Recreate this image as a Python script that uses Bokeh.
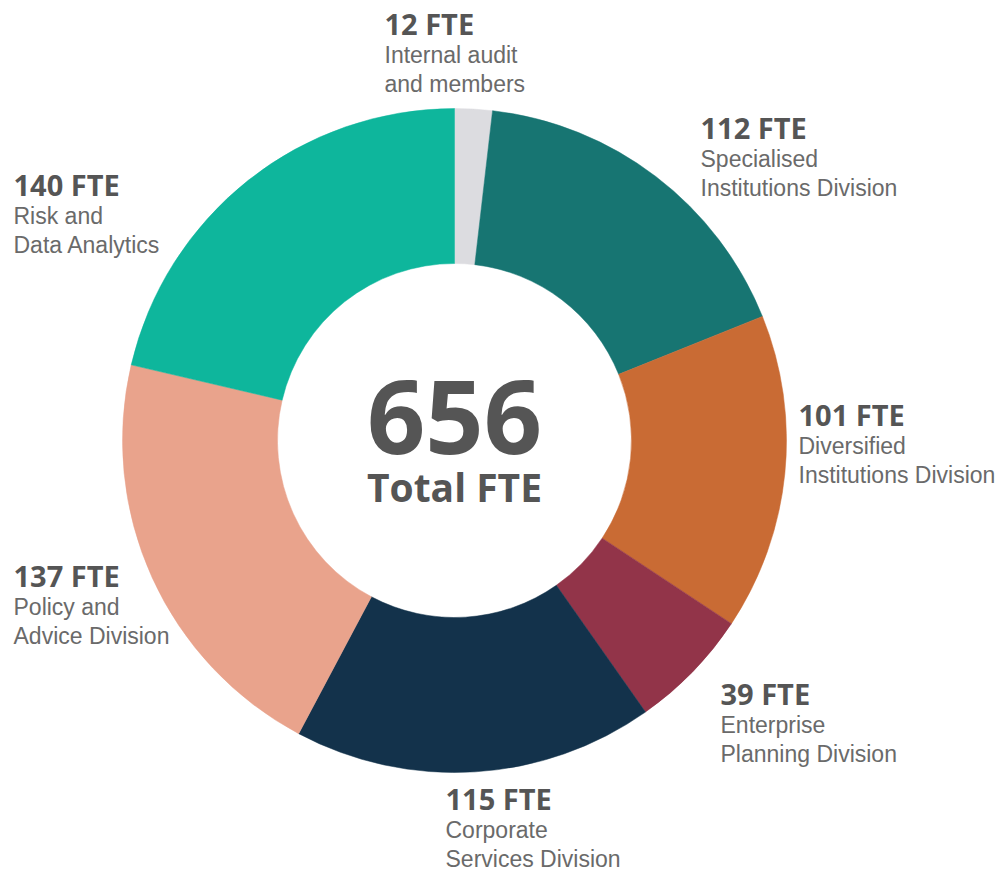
import math
from bokeh.plotting import figure
from bokeh.models import Range1d, ColumnDataSource
from bokeh.core.properties import value
from bokeh.embed import file_html
from bokeh.resources import INLINE

# ---- data ----
divisions_line1 = ["Internal audit", "Specialised", "Diversified", "Enterprise",
                   "Corporate", "Policy and", "Risk and"]
divisions_line2 = ["and members", "Institutions Division", "Institutions Division",
                   "Planning Division", "Services Division", "Advice Division",
                   "Data Analytics"]
fte = [12, 112, 101, 39, 115, 137, 140]
total_label = "Total FTE"

# ---- styles / layout ----
colors = ["#dcdce0", "#177572", "#c96b34", "#923449", "#13324b", "#e9a38c", "#0eb69c"]
W, H = 1003, 875
cx, cy = 454, H - 440
r_out, r_in = 332, 177
# label anchor (left x, baseline of bold line) in image pixels
label_pos = [(384, 33), (700, 137), (798, 424), (720, 703), (445, 808), (13, 585), (13, 194)]
line_gap1, line_gap2 = 30, 29
bold_size, light_size = 29, 23


def mid(baseline, size):
    # anchor y (data) for a "middle" baseline text whose alphabetic baseline is at image y
    return H - (baseline - 0.35 * size)


total = sum(fte)
starts, ends = [], []
acc = 0
for v in fte:
    a0 = math.pi / 2 - 2 * math.pi * acc / total
    acc += v
    a1 = math.pi / 2 - 2 * math.pi * acc / total
    starts.append(a0)
    ends.append(a1)

src = ColumnDataSource(dict(start=starts, end=ends, color=colors))

p = figure(width=W, height=H, output_backend="svg", toolbar_location=None,
           x_range=Range1d(0, W), y_range=Range1d(0, H),
           min_border=0, outline_line_color=None)
p.axis.visible = False
p.grid.visible = False
p.background_fill_color = "white"
p.border_fill_color = "white"

p.annular_wedge(x=cx, y=cy, inner_radius=r_in, outer_radius=r_out,
                start_angle="start", end_angle="end", direction="clock",
                fill_color="color", line_color="color", line_width=0.5, source=src)

bx = [x for x, _ in label_pos]
p.text(x=bx, y=[mid(b, bold_size) for _, b in label_pos], text=[f"{v} FTE" for v in fte],
       text_font=value("Open Sans"), text_font_style="bold", text_font_size=f"{bold_size}px",
       text_color="#555555", text_baseline="middle", text_align="left")
p.text(x=bx, y=[mid(b + line_gap1, light_size) for _, b in label_pos], text=divisions_line1,
       text_font=value("Liberation Sans"), text_font_size=f"{light_size}px",
       text_color="#6a6a6a", text_baseline="middle", text_align="left")
p.text(x=bx, y=[mid(b + line_gap1 + line_gap2, light_size) for _, b in label_pos],
       text=divisions_line2,
       text_font=value("Liberation Sans"), text_font_size=f"{light_size}px",
       text_color="#6a6a6a", text_baseline="middle", text_align="left")

p.text(x=[cx], y=[mid(452, 102)], text=[str(total)],
       text_font=value("Open Sans"), text_font_style="bold", text_font_size="102px",
       text_color="#555555", text_baseline="middle", text_align="center")
p.text(x=[cx], y=[mid(500, 39)], text=[total_label],
       text_font=value("Open Sans"), text_font_style="bold", text_font_size="39px",
       text_color="#555555", text_baseline="middle", text_align="center")

open("out.html", "w").write(file_html(p, INLINE))
